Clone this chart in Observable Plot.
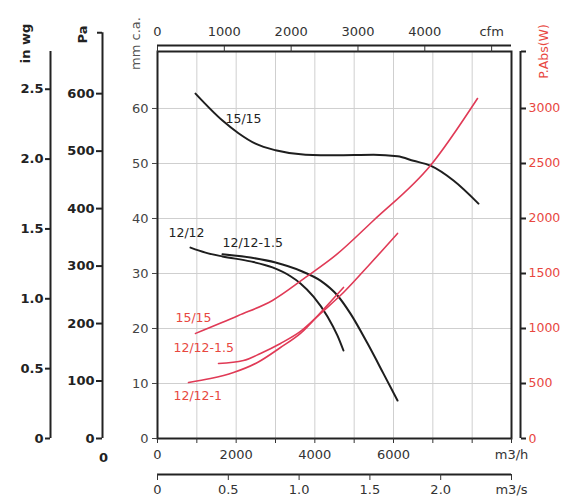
<!DOCTYPE html>
<html><head><meta charset="utf-8">
<script src="https://cdn.jsdelivr.net/npm/d3@7"></script>
<script src="https://cdn.jsdelivr.net/npm/@observablehq/plot@0.6"></script>
<style>body{margin:0;background:#fff}#chart svg{display:block}</style>
</head><body><div id="chart"></div>
<script>
// ---- pressure curves: flow (m3/h) vs static pressure (mm c.a.) ----
const flow1515 = [966, 1652, 2059, 2491, 3000, 3763, 4525, 5491, 6102, 6508, 6940, 7525, 8160];
const press1515 = [62.7, 57.8, 55.5, 53.6, 52.4, 51.6, 51.5, 51.6, 51.3, 50.5, 49.6, 46.9, 42.7];
const flow1212 = [839, 1220, 1652, 2364, 2923, 3381, 3635, 3966, 4321, 4576, 4728];
const press1212 = [34.7, 33.8, 33.1, 32.2, 31.1, 29.5, 28.2, 25.8, 22.2, 18.7, 16.0];
const flow1212_15 = [1652, 2364, 3000, 3635, 4143, 4576, 4906, 5338, 5745, 6102];
const press1212_15 = [33.5, 32.9, 32.0, 30.5, 28.7, 26.0, 22.7, 17.3, 11.8, 6.9];

// ---- absorbed power curves: flow (m3/h) vs P.Abs (W) ----
const pFlow1515 = [966, 2059, 2923, 3763, 4525, 5491, 6940, 8135];
const power1515 = [955, 1118, 1255, 1464, 1664, 1982, 2482, 3091];
const pFlow1212_15 = [1551, 2186, 2618, 3127, 3635, 4143, 4728, 5414, 6102];
const power1212_15 = [682, 709, 773, 864, 973, 1136, 1327, 1591, 1864];
const pFlow1212_1 = [788, 1347, 1932, 2542, 3127, 3635, 4194, 4728];
const power1212_1 = [509, 545, 600, 691, 827, 955, 1164, 1373];

// ---- axes ----
const mmTicks = [0, 10, 20, 30, 40, 50, 60];
const paTicks = [0, 100, 200, 300, 400, 500, 600];
const wgTicks = [0, 0.5, 1.0, 1.5, 2.0, 2.5];
const wgLabels = ["0", "0.5", "1.0", "1.5", "2.0", "2.5"];
const wTicks = [0, 500, 1000, 1500, 2000, 2500, 3000];
const m3hTicks = [0, 1000, 2000, 3000, 4000, 5000, 6000, 7000, 8000, 9000];
const m3hLabels = ["0", "", "2000", "", "4000", "", "6000", "", "", "m3/h"];
const m3sTicks = [0, 0.5, 1.0, 1.5, 2.0, 2.5];
const m3sLabels = ["0", "0.5", "1.0", "1.5", "2.0", "m3/s"];
const cfmTicks = [0, 1000, 2000, 3000, 4000, 5000];
const cfmLabels = ["0", "1000", "2000", "3000", "4000", "cfm"];

// unit conversions (as drawn on the chart)
const M3H_PER_CFM = 1.699, M3H_PER_M3S = 3600, MM_PER_INWG = 25.4, PA_PER_MM = 9.57, W_PER_MM = 50;
const xMax = 9000, yMax = 70.36, paTop = 706;

const BLACK = "#1e1e1e", RED = "#e03a56", REDTXT = "#e8473f", AXIS = "#222";

const zip = (xs, ys) => xs.map((x, i) => ({x, y: ys[i]}));
const curves = [
  {name: "15/15", data: zip(flow1515, press1515), color: BLACK, w: 2, dx: 30, dy: 25},
  {name: "12/12", data: zip(flow1212, press1212), color: BLACK, w: 2, dx: -22, dy: -15},
  {name: "12/12-1.5", data: zip(flow1212_15, press1212_15), color: BLACK, w: 2, dx: 0, dy: -11},
  {name: "15/15", data: zip(pFlow1515, power1515.map(w => w / W_PER_MM)), color: RED, w: 1.6, dx: -20, dy: -15},
  {name: "12/12-1.5", data: zip(pFlow1212_15, power1212_15.map(w => w / W_PER_MM)), color: RED, w: 1.6, dx: -45, dy: -15},
  {name: "12/12-1", data: zip(pFlow1212_1, power1212_1.map(w => w / W_PER_MM)), color: RED, w: 1.6, dx: -15, dy: 13}
];

const mapFmt = (vals, labels) => { const m = new Map(vals.map((v, i) => [v, labels[i]])); return v => m.get(v) ?? ""; };
const m3sVals = m3sTicks.map(s => s * M3H_PER_M3S);
const cfmVals = cfmTicks.map(c => c * M3H_PER_CFM);
const paVals = paTicks.map(p => p / PA_PER_MM);
const wgVals = wgTicks.map(v => v * MM_PER_INWG);
const wVals = wTicks.map(w => w / W_PER_MM);

const label = (t, anchor, dx, dy, o = {}) => Plot.text([t], {frameAnchor: anchor, dx, dy, textAnchor: "middle", lineAnchor: "middle", ...o});

const chart = Plot.plot({
  width: 580, height: 499,
  marginLeft: 157, marginRight: 69, marginTop: 51, marginBottom: 61,
  x: {domain: [0, xMax]},
  y: {domain: [0, yMax]},
  style: {fontFamily: "DejaVu Sans, sans-serif", background: "white", color: AXIS},
  marks: [
    Plot.gridX(m3hTicks.slice(1, -1), {stroke: "#cfcfcf", strokeOpacity: 1}),
    Plot.gridY(mmTicks.slice(1), {stroke: "#cfcfcf", strokeOpacity: 1}),
    ...curves.map(c => Plot.line(c.data, {x: "x", y: "y", stroke: c.color, strokeWidth: c.w, curve: "monotone-x"})),
    ...curves.map(c => Plot.text([c.data[0]], {x: "x", y: "y", text: () => c.name, dx: c.dx, dy: c.dy, textAnchor: "start", fill: c.color === BLACK ? "#222" : REDTXT, fontSize: 12.5})),
    Plot.frame({stroke: AXIS, strokeWidth: 2}),
    // mm c.a. axis
    Plot.axisY(mmTicks, {anchor: "left", tickSize: 5, tickPadding: 4, fontSize: 13, color: "#444", label: null}),
    label("mm c.a.", "top-left", -22, -8, {rotate: -90, fontSize: 13, fill: "#555"}),
    // Pa axis
    Plot.ruleX([0], {y1: 0, y2: paTop / PA_PER_MM, dx: -55, stroke: AXIS, strokeWidth: 2}),
    Plot.axisY(paVals, {anchor: "left", dx: -55, tickSize: 6, tickPadding: 2, strokeWidth: 2, fontSize: 13, fontWeight: "bold", tickFormat: mapFmt(paVals, paTicks.map(String)), label: null}),
    Plot.axisY([paTop / PA_PER_MM], {anchor: "left", dx: -55, tickSize: 5, strokeWidth: 2, tickFormat: () => "", label: null}),
    label("Pa", "top-left", -75, -17, {rotate: -90, fontSize: 13, fontWeight: "bold", fill: "#222"}),
    label("0", "bottom-left", -54, 19, {fontSize: 13, fontWeight: "bold", fill: "#222"}),
    // in wg axis
    Plot.ruleX([0], {y1: 0, y2: yMax, dx: -107, stroke: AXIS, strokeWidth: 2}),
    Plot.axisY(wgVals, {anchor: "left", dx: -107, tickSize: 5, tickPadding: 2, strokeWidth: 2, fontSize: 13, fontWeight: "bold", tickFormat: mapFmt(wgVals, wgLabels), label: null}),
    label("in wg", "top-left", -132, -8, {rotate: -90, fontSize: 13, fontWeight: "bold", fill: "#222"}),
    // power axis (right)
    Plot.ruleX([xMax], {y1: 0, y2: yMax, dx: 9, stroke: AXIS, strokeWidth: 2}),
    Plot.axisY(wVals, {anchor: "right", dx: 9, tickSize: 5, tickPadding: 3, strokeWidth: 2, stroke: AXIS, fill: REDTXT, fontSize: 12.5, tickFormat: mapFmt(wVals, wTicks.map(String)), label: null}),
    Plot.axisY([yMax], {anchor: "right", dx: 9, tickSize: 5, strokeWidth: 2, tickFormat: () => "", label: null}),
    label("P.Abs(W)", "top-right", 32, 0, {rotate: -90, fontSize: 12.5, fill: REDTXT}),
    // m3/h axis (bottom)
    Plot.axisX(m3hTicks, {anchor: "bottom", tickSize: 5, tickPadding: 6, fontSize: 13, color: "#333", tickFormat: mapFmt(m3hTicks, m3hLabels), label: null}),
    // m3/s axis
    Plot.ruleY([0], {x1: 0, x2: xMax, dy: 36, stroke: AXIS, strokeWidth: 2}),
    Plot.axisX(m3sVals, {anchor: "bottom", dy: 36, tickSize: 6, tickPadding: 4, fontSize: 13, color: "#333", tickFormat: mapFmt(m3sVals, m3sLabels), label: null}),
    // cfm axis (top)
    Plot.ruleY([yMax], {x1: 0, x2: xMax, dy: -6, stroke: AXIS, strokeWidth: 2}),
    Plot.axisX(cfmVals, {anchor: "top", tickSize: 6, tickPadding: 10, fontSize: 13, color: "#333", tickFormat: mapFmt(cfmVals, cfmLabels), label: null})
  ]
});
document.getElementById("chart").append(chart);
</script>
</body></html>
